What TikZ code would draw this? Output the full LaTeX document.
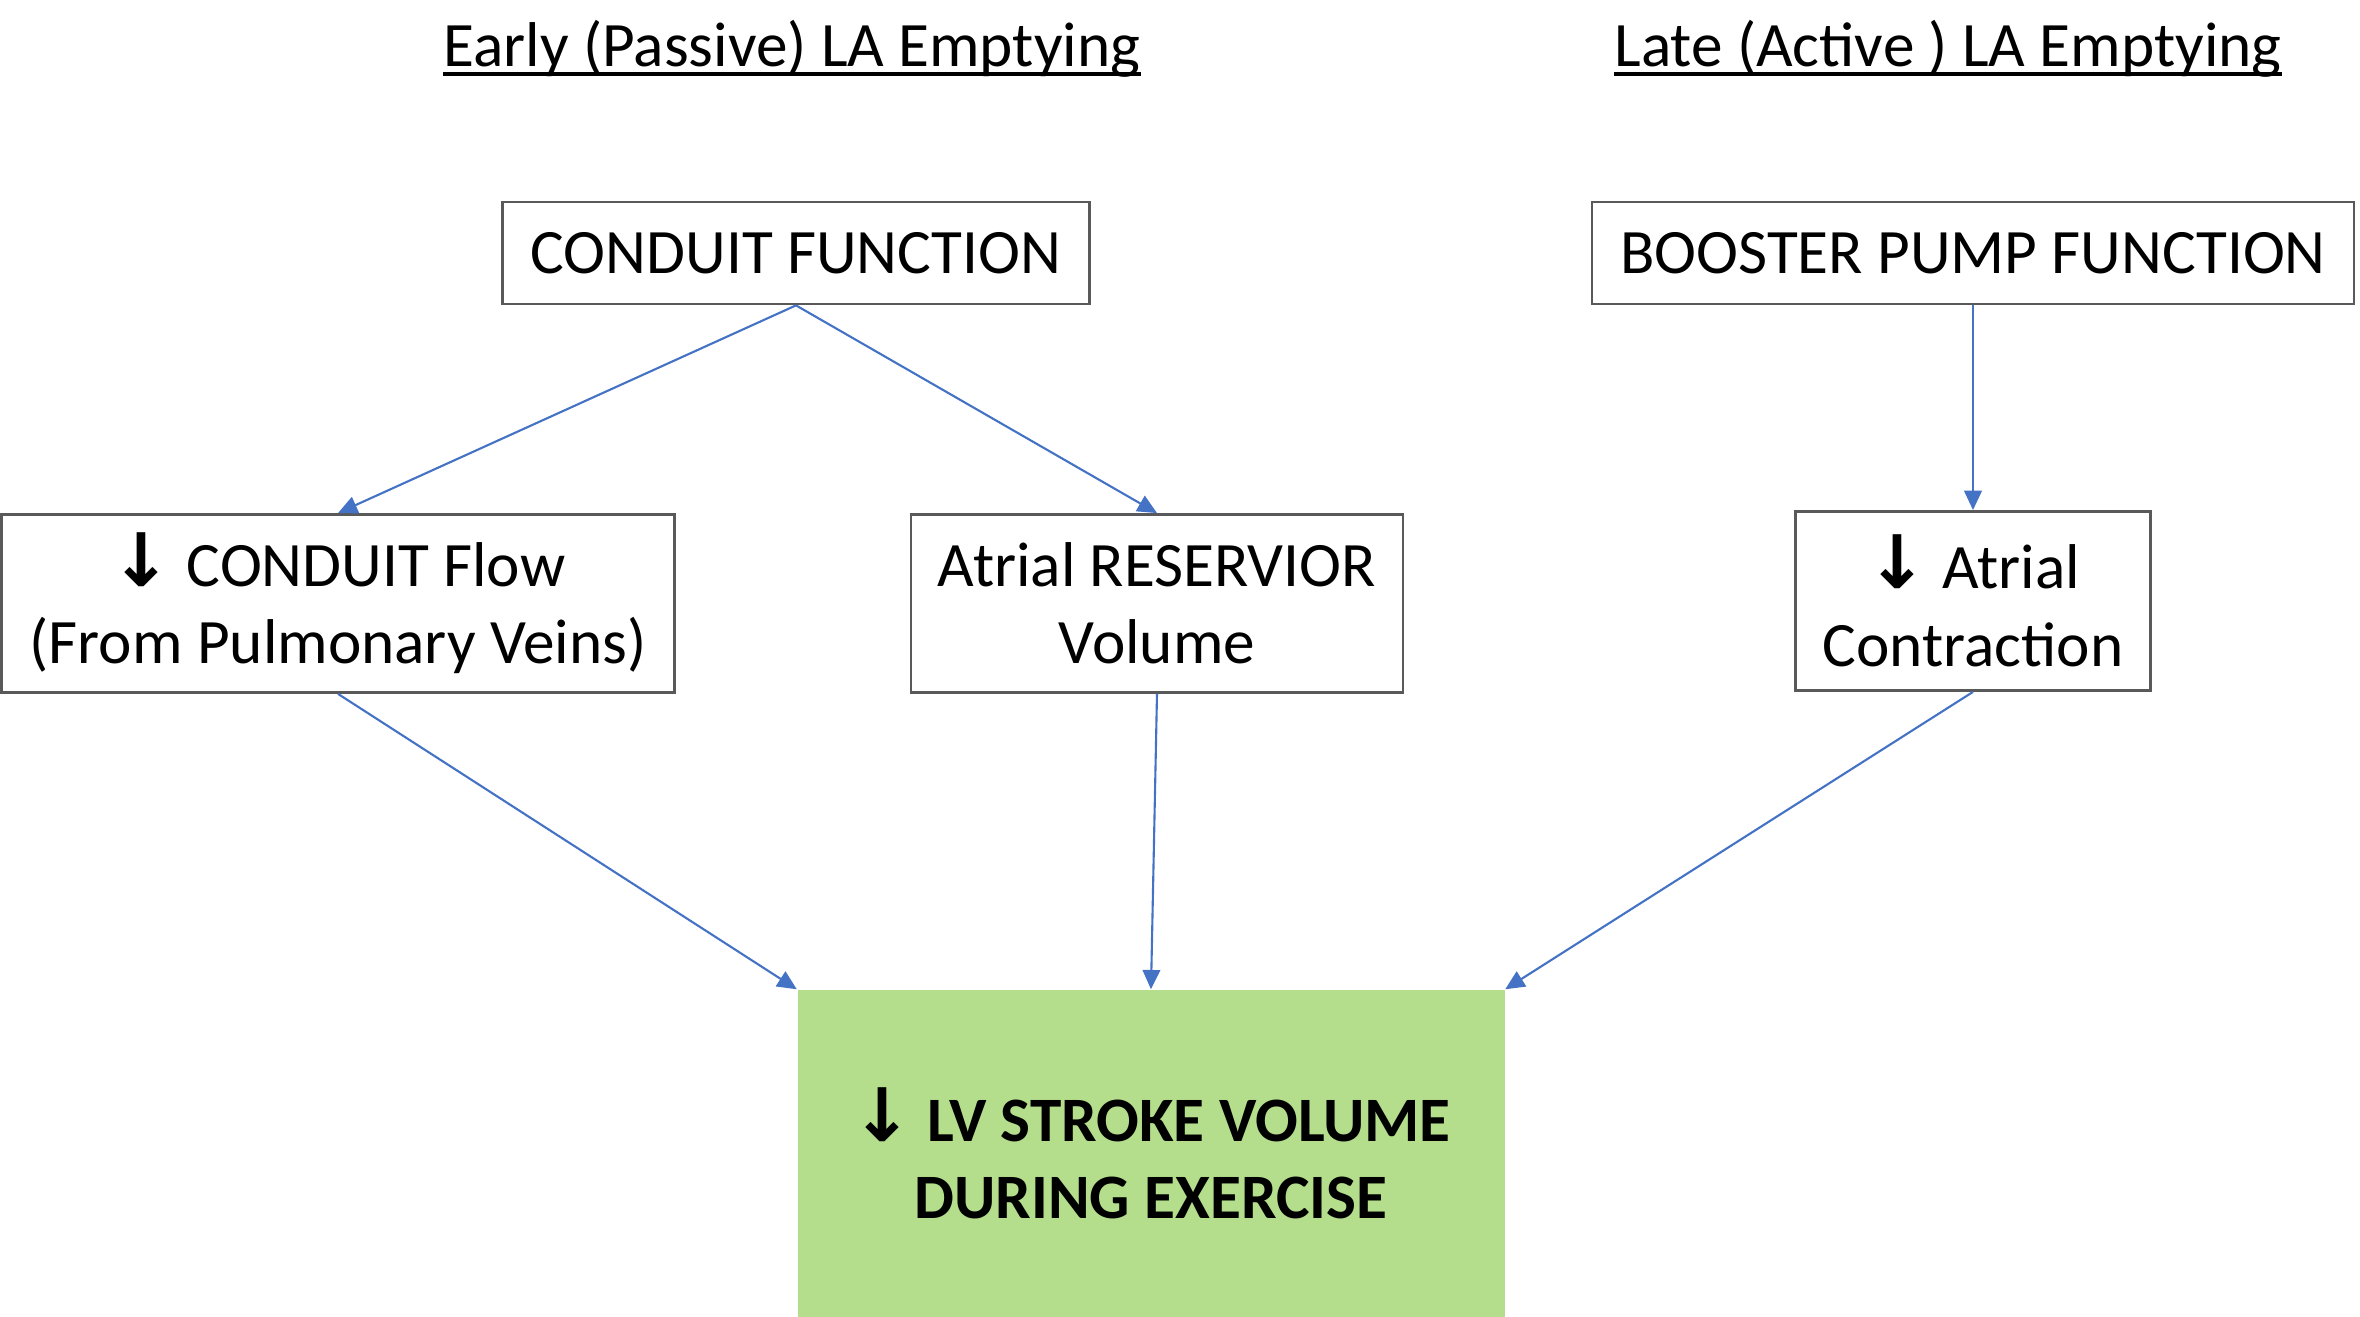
\documentclass[tikz,border=0pt]{standalone}
\usepackage{fontspec}
\setmainfont{Carlito}
\newfontfamily\arrowfont{DejaVu Sans}
\usetikzlibrary{arrows.meta}

\definecolor{boxgrey}{HTML}{595959}
\definecolor{arrowblue}{HTML}{4472C4}
\definecolor{goalgreen}{HTML}{B4DE8C}

\newcommand*{\dn}{{\arrowfont\bfseries\fontsize{21}{22}\selectfont ↓}}

\begin{document}
\begin{tikzpicture}
[
	box/.style={draw=boxgrey,line width=0.8pt,inner sep=0pt,align=center,font=\fontsize{18}{22}\selectfont},
	goalbox/.style={fill=goalgreen,inner sep=0pt,align=center,font=\fontsize{18}{22}\selectfont\bfseries},
	heading/.style={inner sep=0pt,anchor=base,font=\fontsize{18}{22}\selectfont},
	underbar/.style={line width=0.9pt},
	flowarrow/.style={draw=arrowblue,line width=0.6pt,-{Triangle[length=5.5pt,width=5pt]}}
]

	\useasboundingbox (0,0) rectangle (23.6,13.17);

	% headings
	\node[heading] at (7.92,12.5) (early) {Early (Passive) LA Emptying};
	\node[heading] at (19.48,12.5) (late) {Late (Active ) LA Emptying};
	\draw[underbar] ([yshift=-2pt]early.base west) -- ([yshift=-2pt]early.base east);
	\draw[underbar] ([yshift=-2pt]late.base west) -- ([yshift=-2pt]late.base east);

	% top boxes
	\node[box,minimum width=5.87cm,minimum height=1.02cm] at (7.96,10.64) (conduit) {CONDUIT FUNCTION};
	\node[box,minimum width=7.62cm,minimum height=1.02cm] at (19.73,10.64) (booster) {BOOSTER PUMP FUNCTION};

	% middle boxes
	\node[box,minimum width=6.73cm,minimum height=1.78cm] at (3.38,7.135) (flow) {\dn\ CONDUIT Flow\\(From Pulmonary Veins)};
	\node[box,minimum width=4.92cm,minimum height=1.78cm] at (11.57,7.135) (reservoir) {Atrial RESERVIOR\\Volume};
	\node[box,minimum width=3.55cm,minimum height=1.79cm] at (19.73,7.16) (contraction) {\dn\ Atrial\\Contraction};

	% result
	\node[goalbox,minimum width=7.07cm,minimum height=3.27cm] at (11.51,1.635) (stroke) {\dn\ LV STROKE VOLUME\\DURING EXERCISE};

	\draw[flowarrow] (conduit.south) -- (flow.north);
	\draw[flowarrow] (conduit.south) -- (reservoir.north);
	\draw[flowarrow] (booster.south) -- (contraction.north);

	\draw[flowarrow] (flow.south) -- (stroke.north west);
	\draw[flowarrow] (reservoir.south) -- (stroke.north);
	\draw[flowarrow] (contraction.south) -- (stroke.north east);

\end{tikzpicture}
\end{document}
